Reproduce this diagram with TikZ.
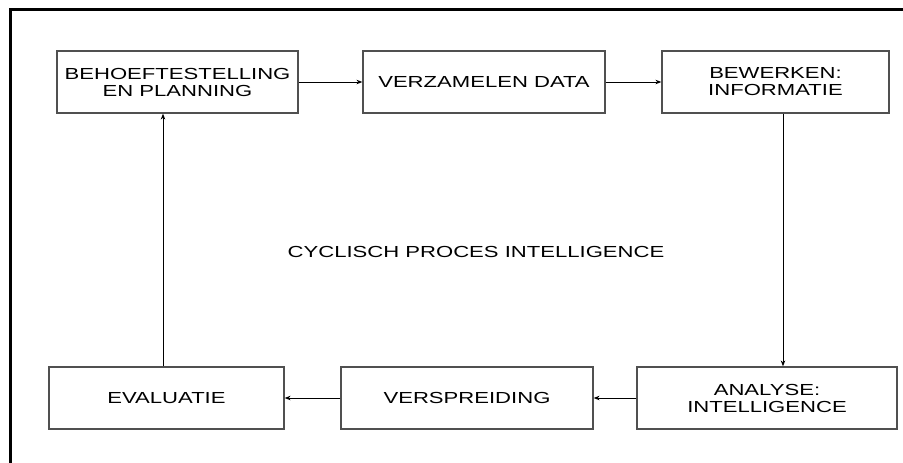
\documentclass[tikz,border=0pt]{standalone}
\usepackage{fontspec}
\setmainfont[FakeStretch=1.38]{Liberation Sans}
\usepackage{tikz}
\usetikzlibrary{arrows.meta, positioning, calc}
\definecolor{boxgray}{RGB}{80, 80, 80}

\begin{document}
\begin{tikzpicture}[
    x=1pt, y=-1pt,
    base/.style={draw=boxgray, line width=1.2pt, fill=white, align=center, minimum height=62pt, inner sep=0pt, font=\fontsize{16pt}{17pt}\selectfont},
    arrow/.style={-{Stealth[length=6pt, width=4.5pt]}, line width=1pt, black},
    frame/.style={line width=3pt, black}
]
    \useasboundingbox (0, 0) rectangle (903, 463);

    % --- OUTER FRAME ---
    \draw[frame] (10, 463) |- (903, 9.5);

    % --- TOP ROW ---
    \node[base, minimum width=241pt] (behoefte) at (177.5, 82) {BEHOEFTESTELLING\\ EN PLANNING};
    \node[base, minimum width=242pt] (verzamel) at (484, 82) {VERZAMELEN DATA};
    \node[base, minimum width=227pt] (bewerken) at (775.5, 82) {BEWERKEN:\\ INFORMATIE};

    \draw[arrow] (behoefte) -- (verzamel);
    \draw[arrow] (verzamel) -- (bewerken);

    % --- TITLE ---
    \node[font=\fontsize{16pt}{17pt}\selectfont] (titel) at (476, 252) {CYCLISCH PROCES INTELLIGENCE};

    % --- BOTTOM ROW ---
    \node[base, minimum width=235pt] (evaluatie) at (166.5, 398) {EVALUATIE};
    \node[base, minimum width=252pt] (verspreid) at (467, 398) {VERSPREIDING};
    \node[base, minimum width=260pt] (analyse) at (767, 398) {ANALYSE:\\ INTELLIGENCE};

    \draw[arrow] ([xshift=7.5pt]bewerken.south) -- ([xshift=7.5pt]bewerken.south |- analyse.north);
    \draw[arrow] (analyse) -- (verspreid);
    \draw[arrow] (verspreid) -- (evaluatie);
    \draw[arrow] ([xshift=-3.5pt]evaluatie.north) -- ([xshift=-3.5pt]evaluatie.north |- behoefte.south);

\end{tikzpicture}
\end{document}
